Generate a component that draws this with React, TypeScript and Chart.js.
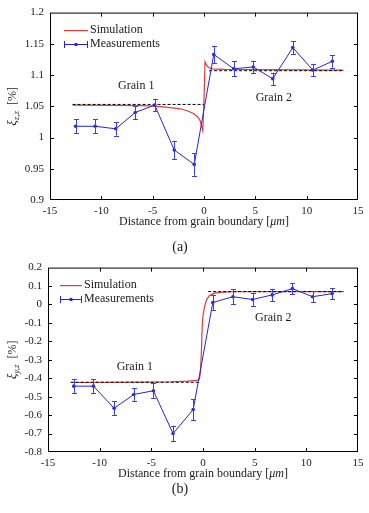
import { useEffect, useRef } from "react";
import { Chart, registerables } from "chart.js";

Chart.register(...registerables);

const FONT = '"Liberation Serif", "Times New Roman", serif';
const TEXT = "#1a1a1a";
const BLUE = "#2424dc";
const BLUE_ERR = "#3d3de6";
const RED = "#e23a3a";

// Measurement positions (µm from the grain boundary), shared by both panels
const positions = [-12.5, -10.6, -8.6, -6.7, -4.8, -2.9, -0.95, 0.95, 2.9, 4.8, 6.7, 8.65, 10.6, 12.5];
const xTicks = [-15, -10, -5, 0, 5, 10, 15];

// Panel (a): xi_zz
const measA = [1.018, 1.018, 1.014, 1.04, 1.052, 0.98, 0.957, 1.133, 1.11, 1.113, 1.094, 1.144, 1.108, 1.122];
const errA = [0.011, 0.011, 0.011, 0.011, 0.01, 0.015, 0.018, 0.014, 0.012, 0.01, 0.01, 0.01, 0.01, 0.01];
const simAx = [-12.8, -6, -4.5, -3.3, -2.3, -1.5, -1, -0.6, -0.35, -0.2, -0.12, 0, 0.1, 0.25, 0.45, 0.8, 2, 13.6];
const simAy = [1.052, 1.051, 1.05, 1.048, 1.046, 1.042, 1.038, 1.033, 1.026, 1.016, 1.011, 1.06, 1.121, 1.116, 1.112, 1.11, 1.109, 1.108];
const grain1A = { from: -12.8, to: 0, level: 1.053 };
const grain2A = { from: 0.5, to: 13.6, level: 1.107 };
const yTicksA = [0.9, 0.95, 1, 1.05, 1.1, 1.15, 1.2];

// Panel (b): xi_yz
const measB = [-0.443, -0.443, -0.563, -0.488, -0.468, -0.7, -0.57, 0.011, 0.042, 0.027, 0.052, 0.086, 0.042, 0.059];
const errB = [0.037, 0.037, 0.038, 0.035, 0.04, 0.043, 0.057, 0.043, 0.042, 0.035, 0.033, 0.03, 0.03, 0.03];
const simBx = [-12.8, -6, -3, -1.5, -0.6, -0.35, -0.25, -0.15, -0.08, 0, 0.15, 0.35, 0.6, 1, 1.6, 3, 13.6];
const simBy = [-0.423, -0.421, -0.419, -0.416, -0.412, -0.405, -0.37, -0.25, -0.12, -0.06, -0.01, 0.025, 0.048, 0.06, 0.066, 0.069, 0.07];
const grain1B = { from: -12.8, to: -0.4, level: -0.422 };
const grain2B = { from: 0.5, to: 13.6, level: 0.07 };
const yTicksB = [-0.8, -0.7, -0.6, -0.5, -0.4, -0.3, -0.2, -0.1, 0, 0.1, 0.2];

type Part = { text: string; font: string; dy?: number };

function drawParts(ctx: CanvasRenderingContext2D, parts: Part[], cx: number, cy: number, rotate: boolean) {
  ctx.save();
  ctx.translate(cx, cy);
  if (rotate) ctx.rotate(-Math.PI / 2);
  let total = 0;
  for (const p of parts) {
    ctx.font = p.font;
    total += ctx.measureText(p.text).width;
  }
  let x0 = -total / 2;
  ctx.textAlign = "left";
  ctx.textBaseline = "alphabetic";
  ctx.fillStyle = TEXT;
  for (const p of parts) {
    ctx.font = p.font;
    ctx.fillText(p.text, x0, 4 + (p.dy || 0));
    x0 += ctx.measureText(p.text).width;
  }
  ctx.restore();
}

type LegendBox = { x0: number; x1: number; tx: number; y1: number; y2: number };

function drawLegend(ctx: CanvasRenderingContext2D, lg: LegendBox) {
  ctx.save();
  ctx.setLineDash([]);
  ctx.globalAlpha = 1;
  ctx.globalCompositeOperation = "source-over";
  // simulation sample
  ctx.fillStyle = RED;
  ctx.fillRect(lg.x0, lg.y1, lg.x1 - lg.x0, 1.2);
  // measurement sample: line with end caps and a marker
  ctx.fillStyle = BLUE;
  ctx.fillRect(lg.x0, lg.y2, lg.x1 - lg.x0, 1);
  ctx.fillRect(lg.x0, lg.y2 - 3, 1, 7);
  ctx.fillRect(lg.x1 - 1, lg.y2 - 3, 1, 7);
  ctx.beginPath();
  ctx.arc((lg.x0 + lg.x1) / 2, lg.y2 + 0.5, 1.8, 0, Math.PI * 2);
  ctx.fill();
  ctx.fillStyle = TEXT;
  ctx.font = `12px ${FONT}`;
  ctx.textAlign = "left";
  ctx.textBaseline = "middle";
  ctx.fillText("Simulation", lg.tx, lg.y1);
  ctx.fillText("Measurements", lg.tx, lg.y2);
  ctx.restore();
}

const decorPlugin = {
  id: "panelDecor",
  afterDatasetsDraw(chart: any, _args: any, opts: any) {
    const { ctx, chartArea: a, scales } = chart;
    const xs = scales.x;
    const ys = scales.y;

    ctx.save();
    ctx.setLineDash([]);

    // error bars on the measurement series
    const meas = chart.data.datasets[0].data as { x: number; y: number }[];
    ctx.strokeStyle = BLUE_ERR;
    ctx.lineWidth = 1;
    meas.forEach((pt, i) => {
      const e = opts.err[i];
      const px = Math.round(xs.getPixelForValue(pt.x)) + 0.5;
      const y1 = ys.getPixelForValue(pt.y + e);
      const y2 = ys.getPixelForValue(pt.y - e);
      ctx.beginPath();
      ctx.moveTo(px, y1);
      ctx.lineTo(px, y2);
      ctx.moveTo(px - 2.5, Math.round(y1) + 0.5);
      ctx.lineTo(px + 2.5, Math.round(y1) + 0.5);
      ctx.moveTo(px - 2.5, Math.round(y2) + 0.5);
      ctx.lineTo(px + 2.5, Math.round(y2) + 0.5);
      ctx.stroke();
    });

    // frame and inward tick marks
    ctx.strokeStyle = "#000";
    ctx.lineWidth = 1;
    ctx.strokeRect(a.left + 0.5, a.top + 0.5, a.right - a.left - 1, a.bottom - a.top - 1);
    ctx.beginPath();
    for (const v of opts.xTicks) {
      if (v === xs.min || v === xs.max) continue;
      const px = Math.round(xs.getPixelForValue(v)) + 0.5;
      ctx.moveTo(px, a.bottom);
      ctx.lineTo(px, a.bottom - 4);
      ctx.moveTo(px, a.top);
      ctx.lineTo(px, a.top + 4);
    }
    for (const v of opts.yTicks) {
      if (v === ys.min || v === ys.max) continue;
      const py = Math.round(ys.getPixelForValue(v)) + 0.5;
      ctx.moveTo(a.left, py);
      ctx.lineTo(a.left + 4, py);
      ctx.moveTo(a.right, py);
      ctx.lineTo(a.right - 4, py);
    }
    ctx.stroke();

    // grain labels
    ctx.fillStyle = TEXT;
    ctx.font = `12px ${FONT}`;
    ctx.textAlign = "center";
    ctx.textBaseline = "middle";
    for (const l of opts.labels) {
      ctx.fillText(l.text, xs.getPixelForValue(l.x), ys.getPixelForValue(l.y));
    }
    ctx.restore();

    // axis titles and caption
    const ax = opts.titles;
    drawParts(ctx, ax.xParts, (a.left + a.right) / 2, ax.xTitleY, false);
    drawParts(ctx, ax.yParts, ax.yTitleX, (a.top + a.bottom) / 2, true);
    ctx.save();
    ctx.fillStyle = TEXT;
    ctx.font = `14px ${FONT}`;
    ctx.textAlign = "center";
    ctx.textBaseline = "middle";
    ctx.fillText(ax.caption, ax.captionX, ax.captionY);
    ctx.restore();
  },
};

type PanelProps = {
  top: number;
  height: number;
  area: { left: number; top: number; right: number; bottom: number };
  meas: number[];
  err: number[];
  simX: number[];
  simY: number[];
  grain1: { from: number; to: number; level: number };
  grain2: { from: number; to: number; level: number };
  yTicks: number[];
  sub: string;
  labels: { text: string; x: number; y: number }[];
  legendBox: LegendBox;
  xTitleY: number;
  captionY: number;
  caption: string;
};

const W = 369;

function Panel(p: PanelProps) {
  const ref = useRef<HTMLCanvasElement | null>(null);
  useEffect(() => {
    if (!ref.current) return;
    const tickFont = { family: FONT, size: 11 };
    const legendPlugin = {
      id: "sampleLegend",
      afterDraw(chart: any) {
        drawLegend(chart.ctx, p.legendBox);
      },
    };
    const chart = new Chart(ref.current, {
      type: "scatter",
      data: {
        datasets: [
          {
            label: "Measurements",
            data: positions.map((x, i) => ({ x, y: p.meas[i] })),
            showLine: true,
            borderColor: BLUE,
            backgroundColor: BLUE,
            borderWidth: 1,
            pointRadius: 1.8,
            pointBorderWidth: 0,
            order: 0,
          },
          {
            label: "Grain 1 mean",
            data: [
              { x: p.grain1.from, y: p.grain1.level },
              { x: p.grain1.to, y: p.grain1.level },
            ],
            showLine: true,
            borderColor: "#000",
            borderWidth: 1,
            borderDash: [3, 2],
            pointRadius: 0,
            order: 1,
          },
          {
            label: "Grain 2 mean",
            data: [
              { x: p.grain2.from, y: p.grain2.level },
              { x: p.grain2.to, y: p.grain2.level },
            ],
            showLine: true,
            borderColor: "#000",
            borderWidth: 1,
            borderDash: [3, 2],
            pointRadius: 0,
            order: 1,
          },
          {
            label: "Simulation",
            data: p.simX.map((x, i) => ({ x, y: p.simY[i] })),
            showLine: true,
            borderColor: RED,
            borderWidth: 1.2,
            pointRadius: 0,
            order: 2,
          },
        ],
      },
      options: {
        responsive: false,
        animation: false,
        devicePixelRatio: 1,
        layout: { padding: { top: p.area.top, right: W - p.area.right, left: 0, bottom: 0 } },
        plugins: {
          legend: { display: false },
          tooltip: { enabled: false },
          panelDecor: {
            err: p.err,
            xTicks,
            yTicks: p.yTicks,
            labels: p.labels,
            titles: {
              xParts: [
                { text: "Distance from grain boundary [", font: `12px ${FONT}` },
                { text: "μm", font: `italic 12px ${FONT}` },
                { text: "]", font: `12px ${FONT}` },
              ],
              yParts: [
                { text: "ξ", font: `italic 13px ${FONT}` },
                { text: p.sub, font: `italic 9px ${FONT}`, dy: 3 },
                { text: "  [%]", font: `12px ${FONT}` },
              ],
              xTitleY: p.xTitleY,
              yTitleX: 12,
              caption: p.caption,
              captionX: 180,
              captionY: p.captionY,
            },
          },
        } as any,
        scales: {
          x: {
            type: "linear",
            min: xTicks[0],
            max: xTicks[xTicks.length - 1],
            afterBuildTicks: (s: any) => {
              s.ticks = xTicks.map((v) => ({ value: v }));
            },
            afterFit: (s: any) => {
              s.height = p.height - p.area.bottom;
            },
            grid: { display: false, drawTicks: false },
            border: { display: false },
            ticks: {
              font: tickFont,
              color: TEXT,
              padding: 5,
              maxRotation: 0,
              autoSkip: false,
              callback: (v: any) => String(v),
            },
          },
          y: {
            type: "linear",
            min: p.yTicks[0],
            max: p.yTicks[p.yTicks.length - 1],
            afterBuildTicks: (s: any) => {
              s.ticks = p.yTicks.map((v) => ({ value: v }));
            },
            afterFit: (s: any) => {
              s.width = p.area.left;
            },
            grid: { display: false, drawTicks: false },
            border: { display: false },
            ticks: {
              font: tickFont,
              color: TEXT,
              padding: 6,
              autoSkip: false,
              callback: (v: any) => String(v),
            },
          },
        },
      },
      plugins: [decorPlugin, legendPlugin],
    } as any);
    return () => chart.destroy();
  }, []);
  return (
    <canvas
      ref={ref}
      width={W}
      height={p.height}
      style={{ position: "absolute", left: 0, top: p.top, width: W, height: p.height }}
    />
  );
}

export default function App() {
  return (
    <div style={{ position: "absolute", left: 0, top: 0, width: W, height: 513, background: "#fff" }}>
      <Panel
        top={0}
        height={255}
        area={{ left: 50, top: 12, right: 358, bottom: 200 }}
        meas={measA}
        err={errA}
        simX={simAx}
        simY={simAy}
        grain1={grain1A}
        grain2={grain2A}
        yTicks={yTicksA}
        sub="z,z"
        labels={[
          { text: "Grain 1", x: -6.6, y: 1.083 },
          { text: "Grain 2", x: 6.8, y: 1.063 },
        ]}
        legendBox={{ x0: 64, x1: 88, tx: 90, y1: 30, y2: 44 }}
        xTitleY={221}
        captionY={247}
        caption="(a)"
      />
      <Panel
        top={255}
        height={258}
        area={{ left: 48, top: 10, right: 358, bottom: 197 }}
        meas={measB}
        err={errB}
        simX={simBx}
        simY={simBy}
        grain1={grain1B}
        grain2={grain2B}
        yTicks={yTicksB}
        sub="y,z"
        labels={[
          { text: "Grain 1", x: -6.6, y: -0.336 },
          { text: "Grain 2", x: 6.8, y: -0.073 },
        ]}
        legendBox={{ x0: 60, x1: 82, tx: 84, y1: 30, y2: 44 }}
        xTitleY={218}
        captionY={234}
        caption="(b)"
      />
    </div>
  );
}
